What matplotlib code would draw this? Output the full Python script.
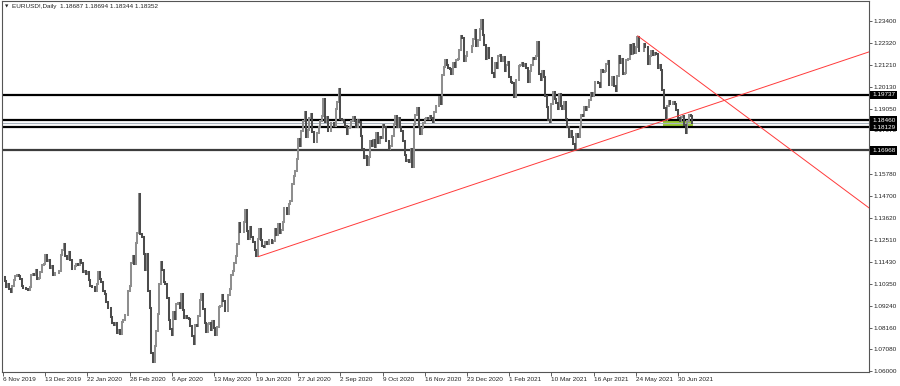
import numpy as np
import matplotlib
matplotlib.use("Agg")
import matplotlib.pyplot as plt
import matplotlib.transforms as mtransforms
from matplotlib.patches import Rectangle

plt.rcParams['font.family'] = ['Liberation Sans', 'DejaVu Sans']

# EURUSD daily closes, one list per month (MT4 bar order, no gaps)
nov19 = [1.1066, 1.1050, 1.1018, 1.1032, 1.1007, 1.0995, 1.1024, 1.1052, 1.1073, 1.1078,
         1.1074, 1.1056, 1.1022, 1.1011, 1.1014, 1.1009, 1.1005, 1.1017]
dec19 = [1.1079, 1.1082, 1.1077, 1.1104, 1.1059, 1.1064, 1.1093, 1.1128, 1.1131, 1.1175,
         1.1145, 1.1152, 1.1113, 1.1121, 1.1079, 1.1089, 1.1090, 1.1090, 1.1098, 1.1178,
         1.1200, 1.1230]
jan20 = [1.1171, 1.1158, 1.1194, 1.1151, 1.1106, 1.1105, 1.1121, 1.1134, 1.1128, 1.1150,
         1.1136, 1.1091, 1.1096, 1.1083, 1.1091, 1.1054, 1.1025, 1.1018, 1.1020, 1.1000,
         1.1031, 1.1093]
feb20 = [1.1059, 1.1043, 1.0999, 1.0981, 1.0945, 1.0912, 1.0915, 1.0871, 1.0840, 1.0831,
         1.0838, 1.0791, 1.0806, 1.0785, 1.0846, 1.0853, 1.0880, 1.0881, 1.0996, 1.1025]
mar20 = [1.1136, 1.1171, 1.1133, 1.1237, 1.1284, 1.1480, 1.1283, 1.1268, 1.1180, 1.1103,
         1.1180, 1.0998, 1.0915, 1.0691, 1.0645, 1.0723, 1.0798, 1.0886, 1.1031, 1.1140,
         1.1100, 1.1044, 1.1032]
apr20 = [1.0962, 1.0855, 1.0807, 1.0780, 1.0892, 1.0857, 1.0935, 1.0939, 1.0913, 1.0985,
         1.0905, 1.0864, 1.0875, 1.0862, 1.0857, 1.0823, 1.0776, 1.0735, 1.0827, 1.0822,
         1.0875, 1.0955]
may20 = [1.0982, 1.0910, 1.0838, 1.0795, 1.0833, 1.0840, 1.0805, 1.0849, 1.0815, 1.0778,
         1.0819, 1.0917, 1.0923, 1.0978, 1.0946, 1.0901, 1.0899, 1.0980, 1.1006, 1.1077,
         1.1098]
jun20 = [1.1136, 1.1172, 1.1233, 1.1337, 1.1290, 1.1292, 1.1343, 1.1400, 1.1298, 1.1256,
         1.1318, 1.1264, 1.1243, 1.1204, 1.1172, 1.1257, 1.1307, 1.1250, 1.1220, 1.1218,
         1.1243, 1.1234, 1.1250]
jul20 = [1.1251, 1.1238, 1.1246, 1.1308, 1.1274, 1.1329, 1.1288, 1.1300, 1.1341, 1.1410,
         1.1411, 1.1383, 1.1428, 1.1444, 1.1531, 1.1569, 1.1595, 1.1655, 1.1753, 1.1718,
         1.1791, 1.1845, 1.1890]
aug20 = [1.1761, 1.1800, 1.1858, 1.1876, 1.1786, 1.1737, 1.1738, 1.1785, 1.1812, 1.1841,
         1.1869, 1.1950, 1.1839, 1.1861, 1.1795, 1.1794, 1.1834, 1.1832, 1.1818, 1.1903,
         1.1937]
sep20 = [1.2000, 1.1854, 1.1850, 1.1838, 1.1818, 1.1779, 1.1806, 1.1814, 1.1845, 1.1864,
         1.1844, 1.1815, 1.1848, 1.1840, 1.1770, 1.1703, 1.1657, 1.1671, 1.1625, 1.1665,
         1.1745, 1.1720]
oct20 = [1.1747, 1.1715, 1.1782, 1.1735, 1.1761, 1.1757, 1.1824, 1.1813, 1.1744, 1.1746,
         1.1706, 1.1717, 1.1768, 1.1826, 1.1870, 1.1815, 1.1860, 1.1812, 1.1795, 1.1745,
         1.1673, 1.1646, 1.1650]
nov20 = [1.1641, 1.1705, 1.1612, 1.1830, 1.1875, 1.1910, 1.1813, 1.1778, 1.1807, 1.1834,
         1.1855, 1.1860, 1.1852, 1.1870, 1.1856, 1.1840, 1.1888, 1.1916, 1.1920, 1.1962,
         1.1928]
dec20 = [1.2071, 1.2113, 1.2145, 1.2121, 1.2108, 1.2101, 1.2079, 1.2132, 1.2112, 1.2147,
         1.2149, 1.2198, 1.2264, 1.2255, 1.2140, 1.2164, 1.2186, 1.2187, 1.2187, 1.2214,
         1.2249, 1.2297, 1.2216]
jan21 = [1.2247, 1.2298, 1.2345, 1.2270, 1.2220, 1.2152, 1.2206, 1.2157, 1.2157, 1.2081,
         1.2060, 1.2132, 1.2107, 1.2165, 1.2170, 1.2141, 1.2160, 1.2090, 1.2122, 1.2136]
feb21 = [1.2060, 1.2037, 1.2034, 1.1960, 1.2046, 1.2049, 1.2118, 1.2119, 1.2133, 1.2118,
         1.2127, 1.2104, 1.2039, 1.2091, 1.2120, 1.2155, 1.2152, 1.2165, 1.2235, 1.2076]
mar21 = [1.2048, 1.2090, 1.2064, 1.1967, 1.1915, 1.1847, 1.1840, 1.1925, 1.1986, 1.1952,
         1.1930, 1.1901, 1.1977, 1.1916, 1.1904, 1.1939, 1.1851, 1.1815, 1.1765, 1.1794,
         1.1765, 1.1731, 1.1710]
apr21 = [1.1778, 1.1764, 1.1813, 1.1874, 1.1870, 1.1915, 1.1900, 1.1912, 1.1947, 1.1980,
         1.1966, 1.1983, 1.2037, 1.2035, 1.2034, 1.2014, 1.2098, 1.2085, 1.2090, 1.2125,
         1.2140, 1.2020, 1.2020]
may21 = [1.2062, 1.2015, 1.1990, 1.2067, 1.2164, 1.2130, 1.2150, 1.2075, 1.2081, 1.2144,
         1.2153, 1.2222, 1.2174, 1.2226, 1.2179, 1.2213, 1.2260, 1.2191, 1.2193, 1.2193,
         1.2227]
jun21 = [1.2211, 1.2212, 1.2127, 1.2167, 1.2191, 1.2172, 1.2180, 1.2174, 1.2107, 1.2120,
         1.2098, 1.1996, 1.1909, 1.1850, 1.1916, 1.1941, 1.1925, 1.1928, 1.1935, 1.1925,
         1.1897, 1.1857]
jul21 = [1.1845, 1.1864, 1.1866, 1.1823, 1.1785, 1.1844, 1.1875, 1.1868, 1.1835]

months = [nov19, dec19, jan20, feb20, mar20, apr20, may20, jun20, jul20, aug20, sep20,
          oct20, nov20, dec20, jan21, feb21, mar21, apr21, may21, jun21, jul21]

# horizontal levels drawn on the chart
levels = [1.19737, 1.18460, 1.18129, 1.16968]
bid = 1.18352

# trend lines: (bar, price) end points
rise_line = [(163.4, 1.1169), (554.4, 1.2187)]
fall_line = [(406.2, 1.2266), (554.4, 1.1410)]

# green zone
zone_bars = (422.2, 441.8)
zone_prices = (1.1813, 1.1845)

price_ticks = [1.23400, 1.22320, 1.21210, 1.20130, 1.19050, 1.17970, 1.16880, 1.15780,
               1.14700, 1.13620, 1.12510, 1.11430, 1.10350, 1.09240, 1.08160, 1.07080,
               1.06000]
hidden_ticks = [1.16880]   # covered by the 1.16968 price box
date_labels = ["6 Nov 2019", "13 Dec 2019", "22 Jan 2020", "28 Feb 2020", "6 Apr 2020",
               "13 May 2020", "19 Jun 2020", "27 Jul 2020", "2 Sep 2020", "9 Oct 2020",
               "16 Nov 2020", "23 Dec 2020", "1 Feb 2021", "10 Mar 2021", "16 Apr 2021",
               "24 May 2021", "30 Jun 2021"]
bars_per_label = 27

closes = np.array([c for m in months for c in m])
opens = np.r_[closes[0], closes[:-1]]
idx = np.arange(len(closes))
up = closes >= opens

fig = plt.figure(figsize=(9, 3.86), dpi=100)
ax = fig.add_axes([2 / 900, 14 / 386, 867 / 900, 371 / 386])

ax.add_patch(Rectangle((zone_bars[0], zone_prices[0]), zone_bars[1] - zone_bars[0],
                       zone_prices[1] - zone_prices[0], fc='#9acd32', ec='none', zorder=1))

for lv in levels:
    col = '#3c3c3c' if lv == levels[-1] else 'black'
    ax.axhline(lv, color=col, lw=1.6, zorder=2)
ax.axhline(bid, color='#aab4be', lw=0.8, zorder=2)

c1 = ax.vlines(idx[up], opens[up], closes[up], color='#8e8e8e', lw=1.45, zorder=3)
c2 = ax.vlines(idx[~up], closes[~up], opens[~up], color='#4c4c4c', lw=1.45, zorder=3)
c1.set_capstyle('projecting')
c2.set_capstyle('projecting')

for (x1, y1), (x2, y2) in [rise_line, fall_line]:
    ax.plot([x1, x2], [y1, y2], color='#ff3a3a', lw=0.7, zorder=4)

ax.set_xlim(-0.6, 554.2)
ax.set_ylim(1.05955, 1.24394)

ax.yaxis.tick_right()
ax.set_yticks(price_ticks)
ax.set_yticklabels(["" if p in hidden_ticks else f"{p:.5f}" for p in price_ticks])
ax.tick_params(axis='y', length=2.2, width=0.6, pad=1.2, labelsize=4.6,
               color='#444444', labelcolor='#222222')

ax.set_xticks(np.arange(len(date_labels)) * bars_per_label)
ax.set_xticklabels(date_labels)
ax.tick_params(axis='x', length=3, width=0.6, pad=0.8, labelsize=4.6,
               color='#444444', labelcolor='#222222')
for lab in ax.get_xticklabels():
    lab.set_ha('left')

for s in ax.spines.values():
    s.set_color('#555555')
    s.set_linewidth(0.8)

# price boxes for the levels on the right scale
trans = mtransforms.blended_transform_factory(ax.transAxes, ax.transData)
for lv in levels:
    ax.text(1.0035, lv, f"{lv:.5f}", transform=trans, ha='left', va='center',
            fontsize=4.6, color='white', clip_on=False, zorder=6,
            bbox=dict(boxstyle='square,pad=0.25', fc='black', ec='none'))

ax.text(0.0035, 0.986, "\u25bc", transform=ax.transAxes, fontsize=3.2,
        va='center', ha='left', color='#222222', family=['DejaVu Sans'])
ax.text(0.0112, 0.986, "EURUSD!,Daily  1.18687 1.18694 1.18344 1.18352",
        transform=ax.transAxes, fontsize=4.6, va='center', ha='left', color='#222222')

fig.savefig("out.png", dpi=100)
